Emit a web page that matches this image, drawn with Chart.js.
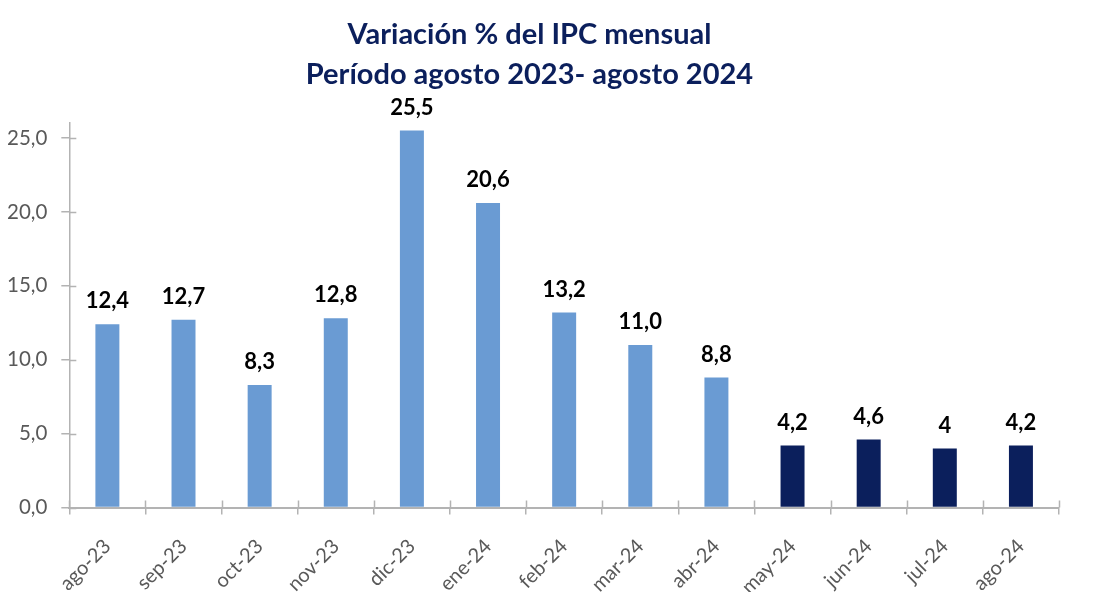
<!DOCTYPE html>
<html>
<head>
<meta charset="utf-8">
<script src="https://cdn.jsdelivr.net/npm/chart.js@4"></script>
<style>
  html, body { margin: 0; padding: 0; background: #fff; }
  #wrap { width: 1096px; height: 610px; }
</style>
</head>
<body>
<div id="wrap"><canvas id="ipcChart"></canvas></div>
<script>
// data
const months = ["ago-23", "sep-23", "oct-23", "nov-23", "dic-23", "ene-24", "feb-24",
  "mar-24", "abr-24", "may-24", "jun-24", "jul-24", "ago-24"];
const ipcValues = [12.4, 12.7, 8.3, 12.8, 25.5, 20.6, 13.2, 11.0, 8.8, 4.2, 4.6, 4.0, 4.2];
const valueLabels = ["12,4", "12,7", "8,3", "12,8", "25,5", "20,6", "13,2", "11,0", "8,8",
  "4,2", "4,6", "4", "4,2"];
const recentFrom = 9; // from may-24 the bars are dark

const lightBlue = "#6a9bd3";
const navy = "#0b1f5c";
const axisGray = "#b3b3b3";
const labelGray = "#595959";

// value labels above each bar
const barLabels = {
  id: "barLabels",
  afterDatasetsDraw(chart) {
    const ctx = chart.ctx;
    const meta = chart.getDatasetMeta(0);
    ctx.save();
    ctx.font = "bold 22px Lato, 'Open Sans', sans-serif";
    ctx.fillStyle = "#000";
    ctx.textAlign = "center";
    ctx.textBaseline = "bottom";
    meta.data.forEach((bar, i) => {
      ctx.fillText(valueLabels[i], bar.x, bar.y - 12);
    });
    ctx.restore();
  }
};

// tick marks cross the axis (the library only draws the outer half)
const crossTicks = {
  id: "crossTicks",
  afterDraw(chart) {
    const ctx = chart.ctx;
    const x = chart.scales.x;
    const y = chart.scales.y;
    ctx.save();
    ctx.strokeStyle = axisGray;
    ctx.lineWidth = 1.5;
    ctx.beginPath();
    y.ticks.forEach((t, i) => {
      const py = Math.round(y.getPixelForTick(i)) + 0.5;
      ctx.moveTo(y.right, py);
      ctx.lineTo(y.right + 7, py);
    });
    for (let i = 0; i <= months.length; i++) {
      const px = Math.round(x.left + (x.width / months.length) * i) + 0.5;
      ctx.moveTo(px, x.top);
      ctx.lineTo(px, x.top - 7);
    }
    ctx.stroke();
    ctx.restore();
  }
};

new Chart(document.getElementById("ipcChart"), {
  type: "bar",
  data: {
    labels: months,
    datasets: [{
      data: ipcValues,
      backgroundColor: ipcValues.map((v, i) => (i >= recentFrom ? navy : lightBlue)),
      borderWidth: 0,
      barPercentage: 0.63,
      categoryPercentage: 0.5
    }]
  },
  options: {
    responsive: true,
    maintainAspectRatio: false,
    animation: false,
    layout: { padding: { left: 0, right: 37, top: 4, bottom: 18 } },
    plugins: {
      legend: { display: false },
      tooltip: { enabled: false },
      title: {
        display: true,
        text: ["Variación % del IPC mensual", "Período agosto 2023- agosto 2024"],
        color: navy,
        font: { family: "Lato, 'Open Sans', sans-serif", size: 29, weight: "bold", lineHeight: 1.4 },
        padding: { top: 10, bottom: 28 }
      }
    },
    scales: {
      x: {
        offset: true,
        grid: {
          offset: true,
          drawOnChartArea: false,
          color: axisGray,
          lineWidth: 1.5,
          tickLength: 7
        },
        border: { color: axisGray, width: 2 },
        ticks: {
          color: labelGray,
          font: { family: "Lato, 'Open Sans', sans-serif", size: 20 },
          minRotation: 45,
          maxRotation: 45,
          padding: 20
        },
        // the rotated label box is estimated too tall; give the plot back that room
        afterFit(scale) {
          scale.height -= 27;
        }
      },
      y: {
        min: 0,
        max: 26,
        grid: {
          drawOnChartArea: false,
          color: axisGray,
          lineWidth: 1.5,
          tickLength: 8
        },
        border: { color: axisGray, width: 1.5 },
        ticks: {
          stepSize: 5,
          includeBounds: false,
          color: labelGray,
          font: { family: "Lato, 'Open Sans', sans-serif", size: 20.5 },
          padding: 14,
          callback: (v) => v.toFixed(1).replace(".", ",")
        },
        afterFit(scale) {
          scale.width -= 7;
        }
      }
    }
  },
  plugins: [barLabels, crossTicks]
});
</script>
</body>
</html>
